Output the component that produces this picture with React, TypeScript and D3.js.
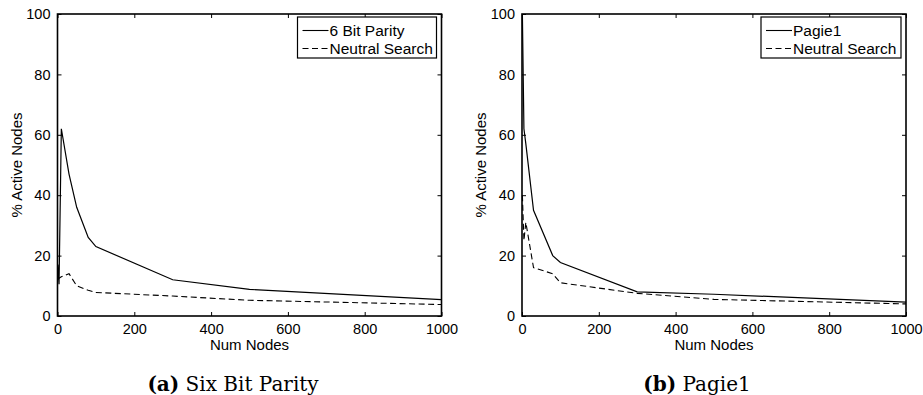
import React, { useEffect, useRef } from 'react';
import * as d3 from 'd3';

// Panel (a): six bit parity
const nodesA = [1, 4, 10, 30, 50, 80, 100, 300, 500, 1000];
const parityActive = [17, 10.5, 62, 47, 36, 26, 23, 12, 8.8, 5.4];
const parityNeutral = [12, 12.5, 13, 14, 10, 8.5, 7.8, 6.6, 5.2, 3.8];

// Panel (b): pagie1
const nodesB = [1, 5, 10, 30, 80, 100, 300, 500, 1000];
const pagieActive = [100, 62, 57, 35, 20, 17.7, 8, 7.2, 4.6];
const pagieNeutral = [40, 25, 31, 16, 14, 11, 7.5, 5.5, 4];

const xTicks = [0, 200, 400, 600, 800, 1000];
const yTicks = [0, 20, 40, 60, 80, 100];

const panels = [
  { left: 57.5, nodes: nodesA, active: parityActive, neutral: parityNeutral, name: '6 Bit Parity', tag: '(a)', caption: 'Six Bit Parity', legendW: 139, capX: 233 },
  { left: 522, nodes: nodesB, active: pagieActive, neutral: pagieNeutral, name: 'Pagie1', tag: '(b)', caption: 'Pagie1', legendW: 140, capX: 697 },
];

const FONT = '"Liberation Sans", Arial, Helvetica, sans-serif';
const SERIF = '"DejaVu Serif", "Liberation Serif", serif';

export default function App() {
  const svgRef = useRef<SVGSVGElement>(null);

  useEffect(() => {
    if (!svgRef.current) return;
    const svg = d3.select(svgRef.current);
    svg.selectAll('*').remove();

    const top = 14;
    const plotW = 384;
    const plotH = 302;

    panels.forEach(p => {
      const g = svg.append('g').attr('transform', `translate(${p.left},${top})`);

      const x = d3.scaleLinear().domain([0, 1000]).range([0, plotW]);
      const y = d3.scaleLinear().domain([0, 100]).range([plotH, 0]);

      // inward ticks on all four sides (matlab style)
      const tk = 4;
      g.append('g')
        .attr('transform', `translate(0,${plotH})`)
        .call(d3.axisBottom(x).tickValues(xTicks).tickSize(-tk).tickPadding(8).tickFormat(d3.format('d')))
        .call(a => a.select('.domain').remove());
      g.append('g')
        .call(d3.axisTop(x).tickValues(xTicks).tickSize(-tk).tickFormat(() => ''))
        .call(a => a.select('.domain').remove());
      g.append('g')
        .call(d3.axisLeft(y).tickValues(yTicks).tickSize(-tk).tickPadding(7).tickFormat(d3.format('d')))
        .call(a => a.select('.domain').remove());
      g.append('g')
        .attr('transform', `translate(${plotW},0)`)
        .call(d3.axisRight(y).tickValues(yTicks).tickSize(-tk).tickFormat(() => ''))
        .call(a => a.select('.domain').remove());

      g.selectAll('.tick line').attr('stroke', '#000').attr('stroke-width', 1);
      g.selectAll('.tick text')
        .style('font-family', FONT)
        .style('font-size', '14.5px')
        .attr('fill', '#000');

      // frame
      g.append('rect')
        .attr('width', plotW)
        .attr('height', plotH)
        .attr('fill', 'none')
        .attr('stroke', '#000')
        .attr('stroke-width', 1.6);

      const line = d3.line<number>()
        .x((_, i) => x(p.nodes[i]))
        .y(d => y(d));

      g.append('path')
        .datum(p.neutral)
        .attr('fill', 'none')
        .attr('stroke', '#000')
        .attr('stroke-width', 1.1)
        .attr('stroke-dasharray', '6,3.5')
        .attr('d', line);

      g.append('path')
        .datum(p.active)
        .attr('fill', 'none')
        .attr('stroke', '#000')
        .attr('stroke-width', 1.2)
        .attr('d', line);

      // axis labels
      g.append('text')
        .attr('x', plotW / 2)
        .attr('y', plotH + 34)
        .attr('text-anchor', 'middle')
        .style('font-family', FONT)
        .style('font-size', '15px')
        .text('Num Nodes');

      g.append('text')
        .attr('transform', 'rotate(-90)')
        .attr('x', -plotH / 2)
        .attr('y', -36)
        .attr('text-anchor', 'middle')
        .style('font-family', FONT)
        .style('font-size', '15px')
        .text('% Active Nodes');

      // legend
      const lx = plotW - 5 - p.legendW;
      const lg = g.append('g').attr('transform', `translate(${lx},3)`);
      lg.append('rect')
        .attr('width', p.legendW)
        .attr('height', 41)
        .attr('fill', '#fff')
        .attr('stroke', '#000')
        .attr('stroke-width', 1.2);
      const rows = [
        { label: p.name, dash: null },
        { label: 'Neutral Search', dash: '6,3.5' },
      ];
      rows.forEach((r, i) => {
        const cy = 13.5 + i * 18;
        lg.append('line')
          .attr('x1', 5)
          .attr('x2', 31)
          .attr('y1', cy)
          .attr('y2', cy)
          .attr('stroke', '#000')
          .attr('stroke-width', 1.1)
          .attr('stroke-dasharray', r.dash);
        lg.append('text')
          .attr('x', 32)
          .attr('y', cy + 5.5)
          .style('font-family', FONT)
          .style('font-size', '15.5px')
          .text(r.label);
      });

      // caption
      const cap = svg.append('text')
        .attr('x', p.capX)
        .attr('y', 391)
        .attr('text-anchor', 'middle')
        .style('font-family', SERIF)
        .style('font-size', '20px');
      cap.append('tspan').style('font-weight', 'bold').text(p.tag);
      cap.append('tspan').text(' ' + p.caption);
    });
  }, []);

  return (
    <div style={{ position: 'absolute', left: 0, top: 0, background: '#fff' }}>
      <svg ref={svgRef} width={923} height={395}></svg>
    </div>
  );
}
